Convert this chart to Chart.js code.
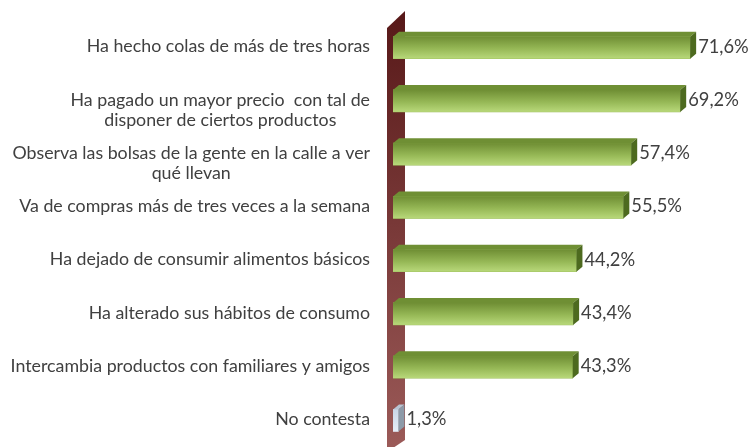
<!DOCTYPE html>
<html>
<head>
<meta charset="utf-8">
<script src="https://cdn.jsdelivr.net/npm/chart.js@4"></script>
<style>
  html, body { margin: 0; padding: 0; background: #fff; }
  #caja { width: 754px; height: 447px; }
</style>
</head>
<body>
<div id="caja"><canvas id="grafico"></canvas></div>
<script>
// datos
const categorias = [
    ['Ha hecho colas de más de tres horas'],
    ['Ha pagado un mayor precio  con tal de', 'disponer de ciertos productos'],
    ['Observa las bolsas de la gente en la calle a ver', 'qué llevan'],
    ['Va de compras más de tres veces a la semana'],
    ['Ha dejado de consumir alimentos básicos'],
    ['Ha alterado sus hábitos de consumo'],
    ['Intercambia productos con familiares y amigos'],
    ['No contesta']
];
const valores = [71.6, 69.2, 57.4, 55.5, 44.2, 43.4, 43.3, 1.3];

const fuente = '17.8px Lato, "Open Sans", sans-serif';
const fuenteValor = '18.3px Lato, "Open Sans", sans-serif';
const gris = '#404040';
const dx = 6, dy = 5;

function etiqueta(v) {
    return v.toFixed(1).replace('.', ',') + '%';
}

// pared 3D a la izquierda
const pared = {
    id: 'pared',
    beforeDatasetsDraw(chart) {
        const ctx = chart.ctx;
        const a = chart.chartArea;
        const x0 = a.left - 6, x1 = a.left + 12;
        let g = ctx.createLinearGradient(0, 10, 0, 447);
        g.addColorStop(0, '#571818');
        g.addColorStop(1, '#9b5a58');
        ctx.save();
        ctx.fillStyle = g;
        ctx.beginPath();
        ctx.moveTo(x0, 28);
        ctx.lineTo(x1, 11);
        ctx.lineTo(x1, 440);
        ctx.lineTo(x0, 452);
        ctx.closePath();
        ctx.fill();
        ctx.restore();
    }
};

// caras 3D de las barras, textos
const barras3d = {
    id: 'barras3d',
    afterDatasetsDraw(chart) {
        const ctx = chart.ctx;
        const meta = chart.getDatasetMeta(0);
        ctx.save();
        meta.data.forEach((bar, i) => {
            const h = bar.height;
            const top = bar.y - h / 2, bot = bar.y + h / 2;
            const x0 = bar.base, x1 = bar.x;
            const ultima = i === valores.length - 1;
            // frente
            let g = ctx.createLinearGradient(0, top, 0, bot);
            if (ultima) {
                g.addColorStop(0, '#c9d6e6');
                g.addColorStop(1, '#e6eef8');
            } else {
                g.addColorStop(0, '#6f8e34');
                g.addColorStop(0.55, '#96b856');
                g.addColorStop(1, '#b8d87a');
            }
            ctx.fillStyle = g;
            ctx.fillRect(x0, top, x1 - x0, h);
            // cara superior
            ctx.fillStyle = ultima ? '#b8c4d2' : '#6f8f34';
            ctx.beginPath();
            ctx.moveTo(x0, top);
            ctx.lineTo(x0 + dx, top - dy);
            ctx.lineTo(x1 + dx, top - dy);
            ctx.lineTo(x1, top);
            ctx.closePath();
            ctx.fill();
            // cara lateral
            ctx.fillStyle = ultima ? '#8d9aa8' : '#4d6a1f';
            ctx.beginPath();
            ctx.moveTo(x1, top);
            ctx.lineTo(x1 + dx, top - dy);
            ctx.lineTo(x1 + dx, bot - dy);
            ctx.lineTo(x1, bot);
            ctx.closePath();
            ctx.fill();
            // valor
            ctx.font = fuenteValor;
            ctx.fillStyle = gris;
            ctx.textAlign = 'left';
            ctx.textBaseline = 'middle';
            ctx.fillText(etiqueta(valores[i]), x1 + dx + 2, bar.y - 1);
        });
        // nombres de categoria
        const ys = chart.scales.y;
        ctx.font = fuente;
        ctx.fillStyle = gris;
        ctx.textBaseline = 'middle';
        ctx.textAlign = 'center';
        categorias.forEach((lineas, i) => {
            const y = ys.getPixelForTick(i);
            const ancho = Math.max(...lineas.map(l => ctx.measureText(l).width));
            const cx = 370 - ancho / 2;
            lineas.forEach((l, k) => {
                ctx.fillText(l, cx, y - 1 + k * 20);
            });
        });
        ctx.restore();
    }
};

new Chart(document.getElementById('grafico'), {
    type: 'bar',
    data: {
        labels: categorias,
        datasets: [{
            data: valores,
            backgroundColor: valores.map((v, i) => i === valores.length - 1 ? '#dde6f2' : '#96b856'),
            borderWidth: 0,
            barThickness: 22
        }]
    },
    options: {
        indexAxis: 'y',
        responsive: true,
        maintainAspectRatio: false,
        animation: false,
        layout: { padding: { left: 393, right: 29, top: 21, bottom: 0 } },
        plugins: { legend: { display: false }, tooltip: { enabled: false } },
        scales: {
            x: { display: false, min: 0, max: 80 },
            y: { display: false }
        }
    },
    plugins: [pared, barras3d]
});
</script>
</body>
</html>
